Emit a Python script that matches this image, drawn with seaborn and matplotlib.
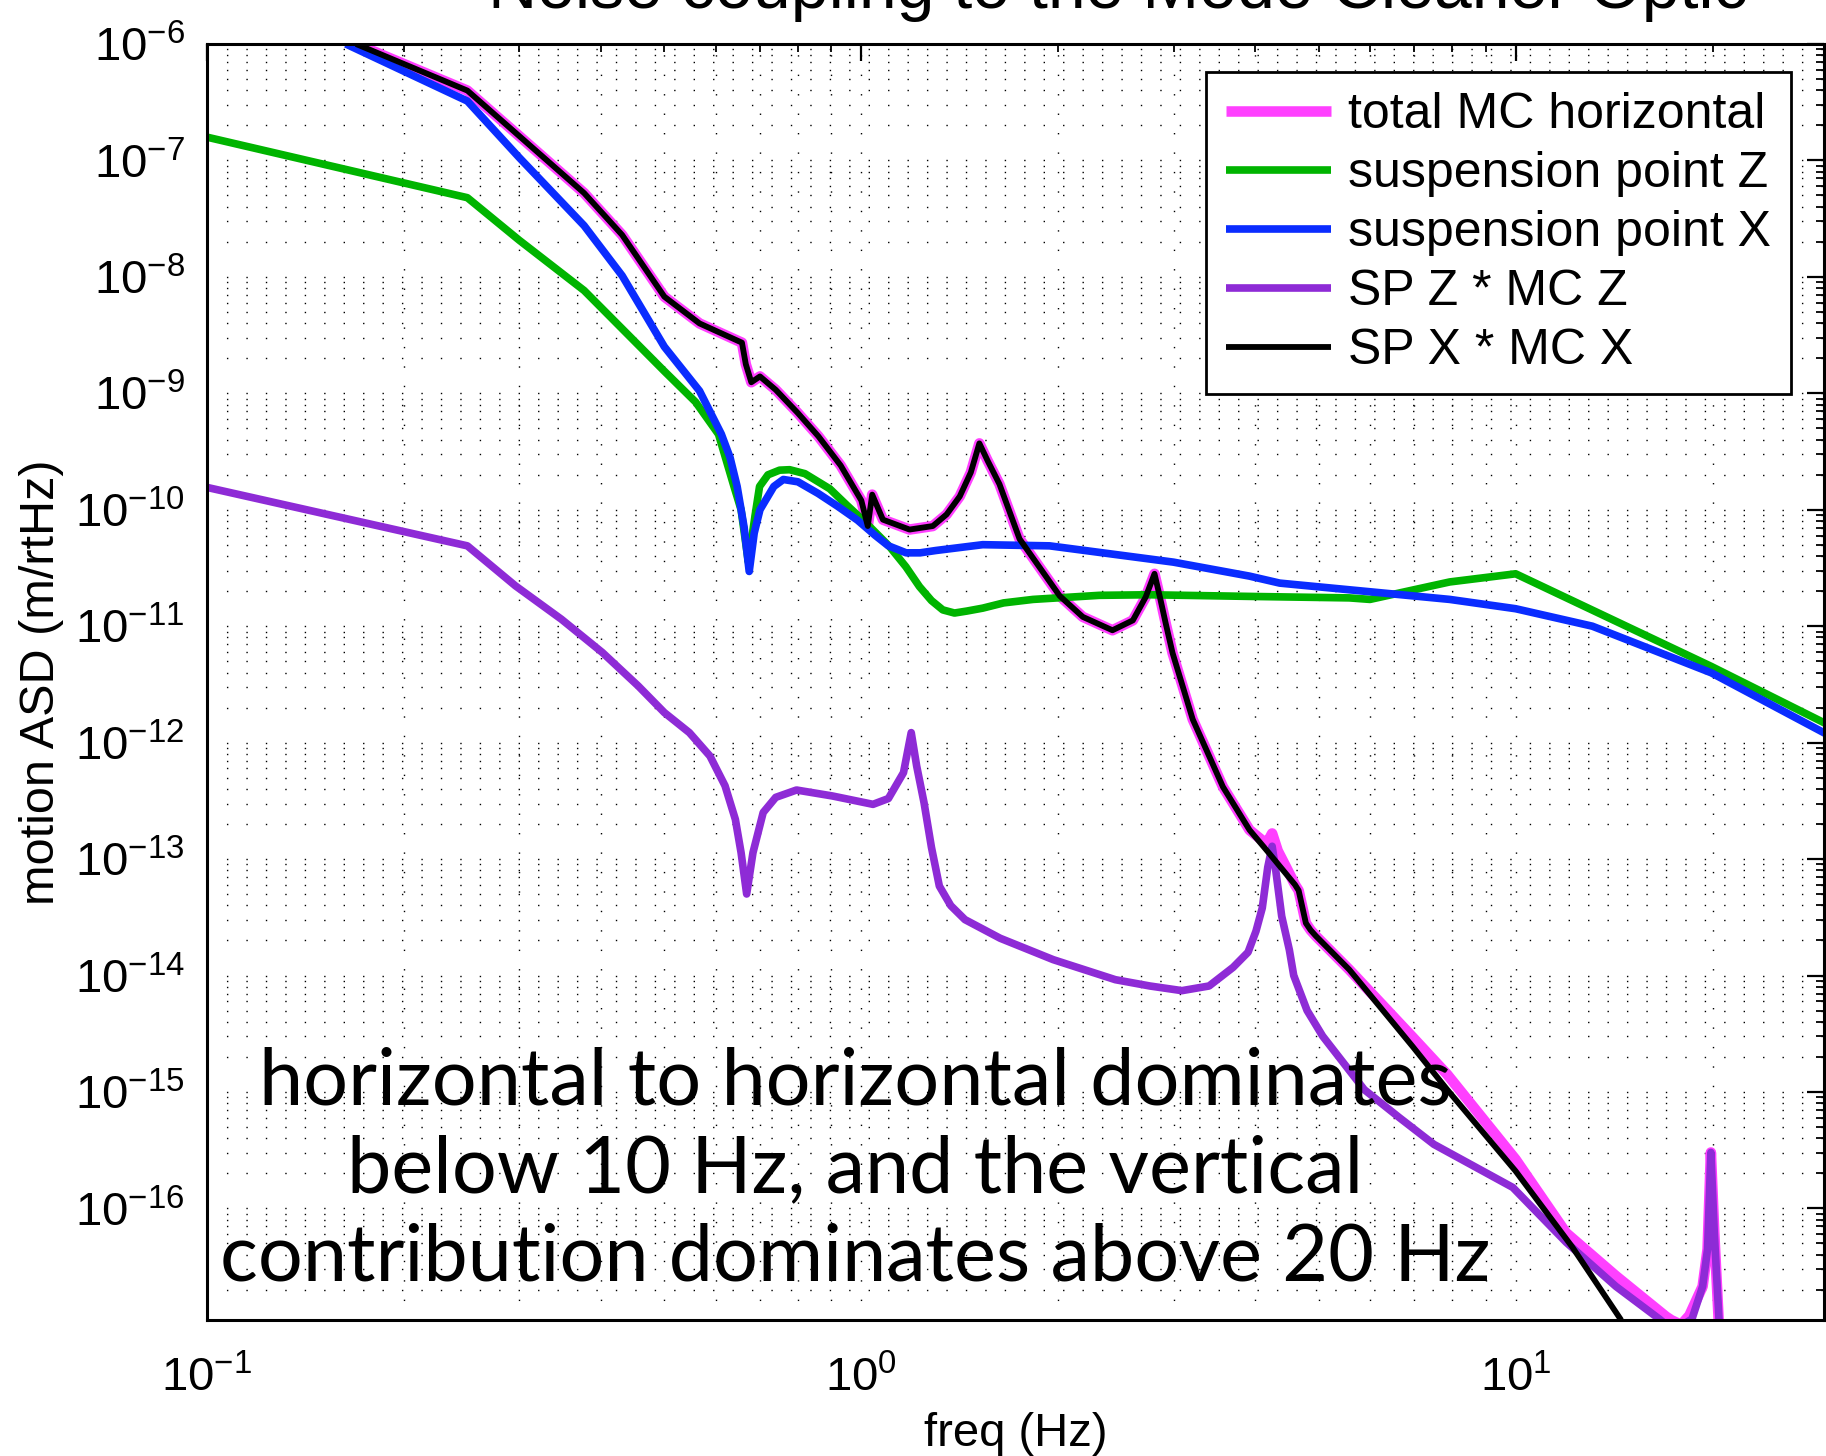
import numpy as np
import matplotlib
matplotlib.use('Agg')
import matplotlib.pyplot as plt
import matplotlib.ticker as mticker
import seaborn as sns

sns.set_theme(style='white')
plt.rcParams['font.family'] = ['Liberation Sans', 'DejaVu Sans']
plt.rcParams['mathtext.fontset'] = 'custom'
plt.rcParams['mathtext.rm'] = 'Liberation Sans'
plt.rcParams['mathtext.it'] = 'Liberation Sans:italic'
plt.rcParams['mathtext.bf'] = 'Liberation Sans:bold'
plt.rcParams['axes.unicode_minus'] = False
for key in ['text.color', 'axes.labelcolor', 'xtick.color', 'ytick.color']:
    plt.rcParams[key] = 'black'

# ── data: frequency (Hz) and log10 of motion ASD (m/rtHz) ──
tot_f = [0.169, 0.25, 0.30, 0.377, 0.431, 0.50, 0.566, 0.657, 0.666, 0.679, 0.70, 0.74,
         0.80, 0.86, 0.93, 1.0, 1.023, 1.039, 1.079, 1.185, 1.286, 1.35, 1.414, 1.47, 1.515,
         1.56, 1.626, 1.745, 2.01, 2.18, 2.42, 2.60, 2.72, 2.806, 2.86, 2.92, 2.99, 3.21, 3.57,
         3.92, 4.10, 4.18, 4.245, 4.33, 4.45, 4.60, 4.66, 4.78, 4.86, 4.95, 5.57, 6.96, 7.86,
         10.0, 11.94, 14.23, 16.98, 17.3, 17.9, 18.43, 19.31, 19.65, 19.88, 20.12, 20.47]
tot_v = [-6.0, -6.40, -6.79, -7.28, -7.64, -8.17, -8.40, -8.565, -8.75, -8.905, -8.855, -8.97,
         -9.17, -9.37, -9.62, -9.92, -10.14, -9.87, -10.085, -10.17, -10.14, -10.04, -9.885, -9.68, -9.43,
         -9.58, -9.78, -10.25, -10.74, -10.92, -11.035, -10.95, -10.75, -10.55, -10.75, -10.98, -11.23, -11.80, -12.38,
         -12.75, -12.84, -12.85, -12.78, -12.93, -13.06, -13.22, -13.27, -13.55, -13.61, -13.66, -13.95, -14.53, -14.85,
         -15.58, -16.21, -16.58, -16.93, -16.96, -17.0, -16.92, -16.67, -16.35, -15.52, -16.21, -17.05]

sz_f = [0.1, 0.25, 0.30, 0.377, 0.50, 0.558, 0.605, 0.64, 0.655, 0.672, 0.68, 0.688, 0.699,
        0.72, 0.75, 0.777, 0.82, 0.895, 0.95, 1.017, 1.104, 1.17, 1.227, 1.28, 1.332, 1.388,
        1.45, 1.533, 1.65, 1.83, 2.31, 2.75, 4.0, 5.57, 5.99, 7.93, 10.0, 19.9, 29.7]
sz_v = [-6.80, -7.32, -7.685, -8.117, -8.81, -9.074, -9.352, -9.815, -10.0, -10.45, -10.25, -10.05, -9.80,
        -9.70, -9.66, -9.656, -9.69, -9.82, -9.96, -10.114, -10.315, -10.49, -10.66, -10.78, -10.86, -10.887,
        -10.87, -10.845, -10.80, -10.77, -10.735, -10.73, -10.745, -10.757, -10.77, -10.62, -10.55, -11.345, -11.833]

sx_f = [0.163, 0.25, 0.30, 0.377, 0.431, 0.50, 0.566, 0.611, 0.63, 0.646, 0.662, 0.674, 0.686,
        0.70, 0.712, 0.735, 0.76, 0.80, 0.859, 0.92, 0.987, 1.05, 1.10, 1.171, 1.23, 1.30, 1.533,
        1.94, 3.0, 3.92, 4.36, 7.93, 10.0, 13.1, 19.9, 29.7]
sx_v = [-6.0, -6.49, -6.975, -7.56, -7.99, -8.60, -8.98, -9.35, -9.55, -9.80, -10.15, -10.53, -10.2,
        -10.0, -9.93, -9.80, -9.74, -9.76, -9.86, -9.97, -10.09, -10.22, -10.31, -10.37, -10.37, -10.35, -10.30,
        -10.31, -10.45, -10.57, -10.63, -10.77, -10.85, -11.0, -11.40, -11.92]

vz_f = [0.1, 0.25, 0.296, 0.348, 0.402, 0.456, 0.50, 0.546, 0.587, 0.619, 0.642, 0.655, 0.668,
        0.683, 0.708, 0.74, 0.796, 0.903, 1.042, 1.10, 1.16, 1.192, 1.215, 1.247, 1.28, 1.316,
        1.37, 1.44, 1.63, 1.965, 2.445, 2.76, 3.09, 3.40, 3.70, 3.90, 4.01, 4.10, 4.18, 4.245,
        4.30, 4.39, 4.51, 4.58, 4.80, 5.07, 5.87, 6.64, 7.5, 9.9, 11.94, 14.23, 16.58, 17.4,
        18.6, 19.31, 19.65, 19.88, 20.12, 20.5]
vz_v = [-9.808, -10.31, -10.653, -10.94, -11.226, -11.513, -11.742, -11.914, -12.115, -12.37, -12.66, -12.945, -13.30,
        -12.945, -12.60, -12.47, -12.407, -12.458, -12.53, -12.48, -12.258, -11.914, -12.2, -12.516, -12.9, -13.232,
        -13.40, -13.52, -13.68, -13.864, -14.036, -14.09, -14.13, -14.09, -13.93, -13.80, -13.62, -13.42, -13.07, -12.89,
        -13.10, -13.49, -13.78, -14.0, -14.3, -14.52, -14.98, -15.22, -15.45, -15.82, -16.29, -16.67, -16.95, -17.05,
        -16.95, -16.67, -16.35, -15.52, -16.21, -17.05]

hx_f = [0.169, 0.25, 0.30, 0.377, 0.431, 0.50, 0.566, 0.657, 0.666, 0.679, 0.70, 0.74,
        0.80, 0.86, 0.93, 1.0, 1.023, 1.039, 1.079, 1.185, 1.286, 1.35, 1.414, 1.47, 1.515,
        1.56, 1.626, 1.745, 2.01, 2.18, 2.42, 2.60, 2.72, 2.806, 2.86, 2.92, 2.99, 3.21, 3.57,
        3.92, 4.20, 4.60, 4.66, 4.78, 4.86, 4.95, 5.57, 6.96, 7.86, 10.0, 12.2, 14.5]
hx_v = [-6.0, -6.40, -6.79, -7.28, -7.64, -8.17, -8.40, -8.565, -8.75, -8.905, -8.855, -8.97,
        -9.17, -9.37, -9.62, -9.92, -10.14, -9.87, -10.085, -10.17, -10.14, -10.04, -9.885, -9.68, -9.43,
        -9.58, -9.78, -10.25, -10.74, -10.92, -11.035, -10.95, -10.75, -10.55, -10.75, -10.98, -11.23, -11.80, -12.38,
        -12.75, -12.95, -13.22, -13.27, -13.55, -13.61, -13.66, -13.95, -14.61, -14.98, -15.68, -16.33, -16.96]

series = [
    ('total MC horizontal', tot_f, tot_v, '#ff40ff', 7.6),
    ('suspension point Z', sz_f, sz_v, '#00b400', 5.5),
    ('suspension point X', sx_f, sx_v, '#0a2cff', 5.5),
    ('SP Z * MC Z', vz_f, vz_v, '#8e2bd6', 5.5),
    ('SP X * MC X', hx_f, hx_v, '#000000', 4.2),
]

title = 'Noise coupling to the Mode Cleaner Optic'
note = ('horizontal to horizontal dominates\n'
        'below 10 Hz, and the vertical\n'
        'contribution dominates above 20 Hz')

W, H = 1826, 1456
fig = plt.figure(figsize=(W / 100, H / 100), dpi=100)
ax = fig.add_axes([207 / W, 136 / H, (1824 - 207) / W, (1320 - 44) / H])

for name, f, v, c, lw in series:
    sns.lineplot(x=np.array(f), y=10.0 ** np.array(v), ax=ax, color=c, linewidth=lw,
                 label=name, sort=False, estimator=None, solid_joinstyle='round',
                 solid_capstyle='butt')

ax.set_xscale('log')
ax.set_yscale('log')
ax.set_xlim(0.1, 29.6)
ax.set_ylim(1.1e-17, 1e-6)

ax.xaxis.set_major_locator(mticker.LogLocator(base=10, numticks=30))
ax.yaxis.set_major_locator(mticker.LogLocator(base=10, numticks=30))
ax.xaxis.set_minor_locator(mticker.LogLocator(base=10, subs=np.arange(2, 10), numticks=100))
ax.yaxis.set_minor_locator(mticker.LogLocator(base=10, subs=np.arange(2, 10), numticks=100))
ax.xaxis.set_minor_formatter(mticker.NullFormatter())
ax.yaxis.set_minor_formatter(mticker.NullFormatter())

ax.grid(True, which='both', color='black', linestyle=(0, (1, 13)), linewidth=1.0)
ax.set_axisbelow(True)
ax.tick_params(which='both', direction='in', top=True, right=True, color='black')
ax.tick_params(which='major', length=12, width=1.6, labelsize=34)
ax.tick_params(axis='y', which='major', pad=16)
ax.tick_params(axis='x', which='major', pad=26)
ax.tick_params(which='minor', length=6, width=1.3)
for sp in ax.spines.values():
    sp.set_color('black')
    sp.set_linewidth(2.2)

ax.set_xlabel('freq (Hz)', fontsize=34, labelpad=8)
ax.set_ylabel('motion ASD (m/rtHz)', fontsize=35, labelpad=8)

leg = ax.legend(loc='upper right', bbox_to_anchor=(1791 / W, 1 - 72 / H),
                bbox_transform=fig.transFigure, borderaxespad=0, fontsize=36,
                handlelength=2.1, handletextpad=0.35, labelspacing=0.26,
                borderpad=0.4, fancybox=False, framealpha=1, edgecolor='black')
leg.get_frame().set_linewidth(2)

fig.text(1118 / W, 1 - 8 / H, title, ha='center', va='baseline', fontsize=49)
fig.text(855 / W, 0.196, note, ha='center', va='center', fontsize=57,
         family=['Lato', 'DejaVu Sans'], linespacing=1.27)

fig.savefig('out.png', dpi=100)
